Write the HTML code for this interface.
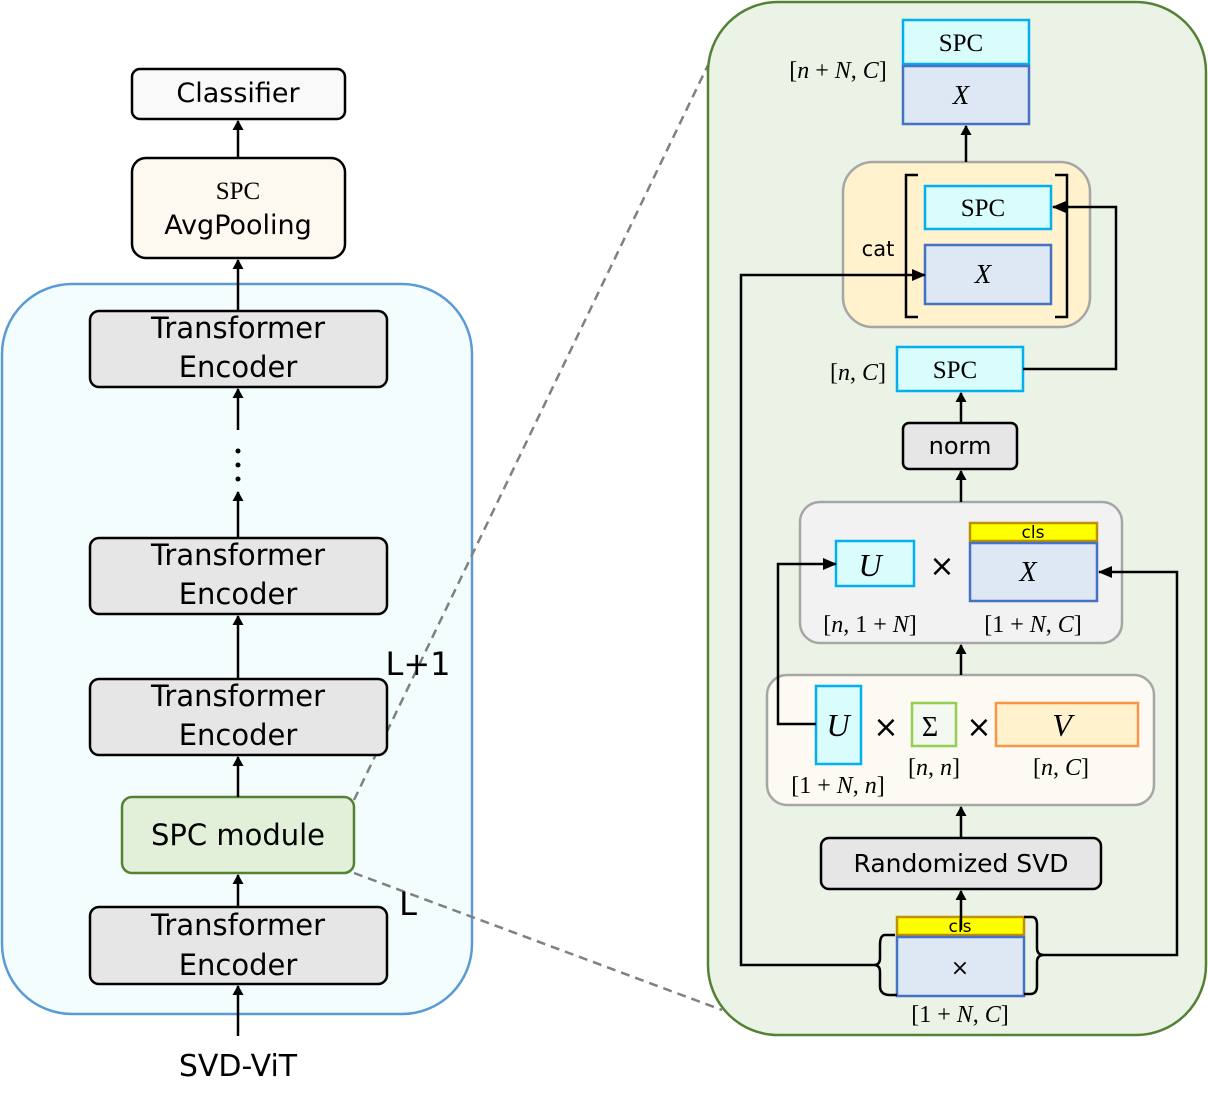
<!DOCTYPE html>
<html><head><meta charset="utf-8"><style>html,body{margin:0;padding:0;background:#fff}svg{display:block}
.s{font-family:"DejaVu Sans","Liberation Sans",sans-serif}
.m{font-family:"Liberation Serif",serif}
</style></head><body>
<svg width="1208" height="1107" viewBox="0 0 1208 1107" xmlns="http://www.w3.org/2000/svg">
<defs><marker id="a" markerWidth="10" markerHeight="12" refX="9" refY="6" orient="auto" markerUnits="userSpaceOnUse"><path d="M0,0.5 L10,6 L0,11.5 z" fill="#000"/></marker>
<marker id="b" markerWidth="14" markerHeight="12" refX="13" refY="6" orient="auto" markerUnits="userSpaceOnUse"><path d="M0,0 L14,6 L0,12 z" fill="#000"/></marker></defs>
<!-- left -->
<rect x="2" y="284" width="470" height="730" rx="70" fill="#f4fdfd" stroke="#5b9bd5" stroke-width="2.5"/>
<!-- dashed -->
<line x1="354" y1="800" x2="708" y2="65" stroke="#808080" stroke-width="2.5" stroke-dasharray="9,6"/>
<line x1="354" y1="873" x2="722" y2="1010" stroke="#808080" stroke-width="2.5" stroke-dasharray="9,6"/>
<g stroke="#000" stroke-width="2.5">
<rect x="132" y="69" width="213" height="50" rx="8" fill="#f9f9f9"/>
<rect x="132" y="158" width="213" height="100" rx="14" fill="#fdf8f0"/>
<rect x="90" y="311" width="297" height="76" rx="9" fill="#e6e6e6"/>
<rect x="90" y="538" width="297" height="76" rx="9" fill="#e6e6e6"/>
<rect x="90" y="679" width="297" height="76" rx="9" fill="#e6e6e6"/>
<rect x="90" y="907" width="297" height="77" rx="9" fill="#e6e6e6"/>
</g>
<rect x="122" y="797" width="232" height="76" rx="10" fill="#e2efd9" stroke="#548235" stroke-width="2.5"/>
<g stroke="#000" stroke-width="2.5" marker-end="url(#a)">
<line x1="238" y1="158" x2="238" y2="121"/>
<line x1="238" y1="311" x2="238" y2="260"/>
<line x1="238" y1="430" x2="238" y2="389"/>
<line x1="238" y1="538" x2="238" y2="492"/>
<line x1="238" y1="679" x2="238" y2="616"/>
<line x1="238" y1="797" x2="238" y2="757"/>
<line x1="238" y1="907" x2="238" y2="875"/>
<line x1="238" y1="1036" x2="238" y2="986"/>
</g>
<circle cx="238" cy="451" r="2.5"/><circle cx="238" cy="465" r="2.5"/><circle cx="238" cy="479" r="2.5"/>
<g class="s" font-size="27" text-anchor="middle" fill="#000">
<text x="238" y="102">Classifier</text>
<text x="238" y="199" class="m" font-size="25">SPC</text>
<text x="238" y="234">AvgPooling</text>
<text x="238" y="338" font-size="29">Transformer</text><text x="238" y="377" font-size="29">Encoder</text>
<text x="238" y="565" font-size="29">Transformer</text><text x="238" y="604" font-size="29">Encoder</text>
<text x="238" y="706" font-size="29">Transformer</text><text x="238" y="745" font-size="29">Encoder</text>
<text x="238" y="935" font-size="29">Transformer</text><text x="238" y="975" font-size="29">Encoder</text>
<text x="238" y="845" font-size="29">SPC module</text>
<text x="238" y="1076" font-size="30">SVD-ViT</text>
<text x="418" y="675" font-size="32">L+1</text>
<text x="408" y="915" font-size="32">L</text>
</g>
<!-- right -->
<rect x="708" y="2" width="498" height="1033" rx="70" fill="#ebf2e6" stroke="#548235" stroke-width="2.5"/>
<rect x="843" y="162" width="247" height="165" rx="30" fill="#fff2cc" stroke="#a6a6a6" stroke-width="2.5"/>
<rect x="800" y="502" width="322" height="141" rx="20" fill="#f2f2f2" stroke="#a6a6a6" stroke-width="2.5"/>
<rect x="767" y="675" width="387" height="130" rx="20" fill="#fdf9f3" stroke="#a6a6a6" stroke-width="2.5"/>
<g stroke-width="2.5">
<rect x="903" y="20" width="126" height="44" fill="#d9fdfd" stroke="#00b0f0"/>
<rect x="903" y="66" width="126" height="58" fill="#dde8f4" stroke="#4472c4"/>
<rect x="925" y="186" width="126" height="43" fill="#d9fdfd" stroke="#00b0f0"/>
<rect x="925" y="245" width="126" height="59" fill="#dde8f4" stroke="#4472c4"/>
<rect x="897" y="347" width="126" height="44" fill="#d9fdfd" stroke="#00b0f0"/>
<rect x="903" y="423" width="114" height="46" rx="6" fill="#e6e6e6" stroke="#000"/>
<rect x="836" y="541" width="78" height="45" fill="#d9fdfd" stroke="#00b0f0"/>
<rect x="970" y="523" width="127" height="18" fill="#ffff00" stroke="#bf9000"/>
<rect x="970" y="543" width="127" height="58" fill="#dde8f4" stroke="#4472c4"/>
<rect x="816" y="686" width="45" height="78" fill="#d9fdfd" stroke="#00b0f0"/>
<rect x="912" y="703" width="44" height="43" fill="#f3f8f1" stroke="#92d050"/>
<rect x="996" y="703" width="142" height="43" fill="#fff2cc" stroke="#f79646"/>
<rect x="821" y="838" width="280" height="51" rx="8" fill="#e6e6e6" stroke="#000"/>
<rect x="897" y="917" width="127" height="18" fill="#ffff00" stroke="#bf9000"/>
<rect x="897" y="937" width="127" height="59" fill="#dde8f4" stroke="#4472c4"/>
</g>
<g fill="none" stroke="#000" stroke-width="2.5">
<path d="M918,175 H906 V317 H918"/><path d="M1055,175 H1067 V317 H1055"/>
<path d="M895,935 H885 Q880,935 880,945 V958 Q880,965 874,965 Q880,965 880,972 V986 Q880,995 890,995 H897"/>
<path d="M1024,917 H1032 Q1037,917 1037,925 V948 Q1037,955 1044,955 Q1037,955 1037,962 V986 Q1037,994 1030,994 H1024"/>
</g>
<g fill="none" stroke="#000" stroke-width="2.5">
<path d="M1023,369 H1116 V207 H1053" marker-end="url(#b)"/>
<path d="M874,965 H741 V275 H925" marker-end="url(#b)"/>
<path d="M816,724 H778 V564 H836" marker-end="url(#b)"/>
<path d="M1044,955 H1177 V572 H1099" marker-end="url(#b)"/>
<line x1="966" y1="162" x2="966" y2="126" marker-end="url(#a)"/>
<line x1="961" y1="423" x2="961" y2="393" marker-end="url(#a)"/>
<line x1="961" y1="502" x2="961" y2="471" marker-end="url(#a)"/>
<line x1="961" y1="675" x2="961" y2="645" marker-end="url(#a)"/>
<line x1="961" y1="838" x2="961" y2="807" marker-end="url(#a)"/>
<line x1="961" y1="930" x2="961" y2="891" marker-end="url(#a)"/>
</g>
<g class="m" text-anchor="middle" fill="#000" font-size="25">
<text x="961" y="51">SPC</text>
<text x="961" y="104" font-style="italic" font-size="27">X</text>
<text x="983" y="216">SPC</text>
<text x="983" y="283" font-style="italic" font-size="27">X</text>
<text x="955" y="378">SPC</text>
<text x="838" y="78" font-size="24">[<tspan font-style="italic">n</tspan> + <tspan font-style="italic">N</tspan>, <tspan font-style="italic">C</tspan>]</text>
<text x="858" y="380" font-size="24">[<tspan font-style="italic">n</tspan>, <tspan font-style="italic">C</tspan>]</text>
<text x="870" y="576" font-size="32" font-style="italic">U</text>
<text x="1028" y="581" font-style="italic" font-size="28">X</text>
<text x="838" y="736" font-size="32" font-style="italic">U</text>
<text x="930" y="736" font-size="28">Σ</text>
<text x="1062" y="736" font-size="32" font-style="italic">V</text>
<text x="870" y="632" font-size="24">[<tspan font-style="italic">n</tspan>, 1 + <tspan font-style="italic">N</tspan>]</text>
<text x="1033" y="632" font-size="24">[1 + <tspan font-style="italic">N</tspan>, <tspan font-style="italic">C</tspan>]</text>
<text x="838" y="793" font-size="24">[1 + <tspan font-style="italic">N</tspan>, <tspan font-style="italic">n</tspan>]</text>
<text x="934" y="775" font-size="24">[<tspan font-style="italic">n</tspan>, <tspan font-style="italic">n</tspan>]</text>
<text x="1061" y="775" font-size="24">[<tspan font-style="italic">n</tspan>, <tspan font-style="italic">C</tspan>]</text>
<text x="960" y="1022" font-size="24">[1 + <tspan font-style="italic">N</tspan>, <tspan font-style="italic">C</tspan>]</text>
</g>
<g class="s" text-anchor="middle" fill="#000">
<text x="878" y="256" font-size="21">cat</text>
<text x="960" y="454" font-size="24">norm</text>
<text x="961" y="872" font-size="25">Randomized SVD</text>
<text x="1033" y="538" font-size="17">cls</text>
<text x="960" y="932" font-size="17">cls</text>
<text x="960" y="975" font-size="22">×</text>
<text x="942" y="576" font-size="30">×</text>
<text x="886" y="737" font-size="30">×</text>
<text x="979" y="737" font-size="30">×</text>
</g>
</svg>
</body></html>
